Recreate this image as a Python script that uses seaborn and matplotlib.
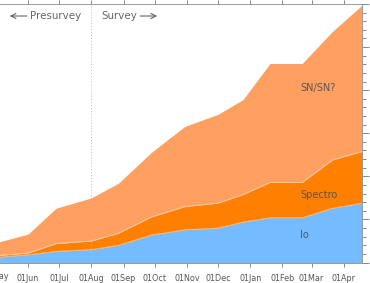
import pandas as pd
import numpy as np
import matplotlib
matplotlib.use("Agg")
import matplotlib.pyplot as plt
import matplotlib.dates as mdates
import seaborn as sns

# cumulative counts per category
dates = ["2004-05-01", "2004-06-01", "2004-06-28", "2004-08-01", "2004-08-27",
         "2004-09-28", "2004-10-30", "2004-12-01", "2004-12-25", "2005-01-20",
         "2005-02-20", "2005-03-21", "2005-04-19"]
io_counts = [6, 9, 13, 15, 20, 32, 38, 40, 47, 52, 52, 63, 69]
spectro_counts = [2, 2, 9, 10, 14, 21, 27, 29, 32, 41, 41, 56, 60]
sn_counts = [15, 22, 41, 50, 58, 75, 93, 103, 110, 138, 138, 149, 170]

layer_names = ["Io", "Spectro", "SN/SN?"]
layer_colors = ["#75BBFF", "#FF8000", "#FFA060"]
survey_start = "2004-08-01"

df = pd.DataFrame({"date": pd.to_datetime(dates), "Io": io_counts,
                   "Spectro": spectro_counts, "SN/SN?": sn_counts})
df["Io_top"] = df["Io"]
df["Spectro_top"] = df["Io_top"] + df["Spectro"]
df["SN/SN?_top"] = df["Spectro_top"] + df["SN/SN?"]

sns.set_style("white")
plt.rcParams['font.family'] = ['DejaVu Sans']

fig = plt.figure(figsize=(3.7, 2.83), dpi=100)
ax = fig.add_axes([0.0, 0.0724, 0.978, 0.9134])

lower = np.zeros(len(df))
for name, color in zip(layer_names, layer_colors):
    upper = df[name + "_top"].values
    ax.fill_between(df["date"], lower, upper, color=color, linewidth=0, zorder=1)
    lower = upper

# faint seams between layers
for name in layer_names[:-1]:
    sns.lineplot(x=df["date"], y=df[name + "_top"], ax=ax, color="white",
                 linewidth=0.5, alpha=0.5, zorder=2)

ax.axvline(pd.Timestamp(survey_start), color="#bbbbbb", linestyle=(0, (1, 2)),
           linewidth=0.7, zorder=3)

ax.set_xlim(pd.Timestamp("2004-05-05"), pd.Timestamp("2005-04-18 12:00"))
ax.set_ylim(0, 300)
ax.set_xlabel("")
ax.set_ylabel("")

ax.xaxis.set_major_locator(mdates.MonthLocator())
ax.xaxis.set_major_formatter(mdates.DateFormatter("%d%b"))
ax.yaxis.set_major_locator(plt.MultipleLocator(50))
ax.yaxis.set_minor_locator(plt.MultipleLocator(10))

tick_color = "#888888"
ax.tick_params(axis="x", which="major", direction="out", length=3, width=0.7,
               color=tick_color, labelsize=5.8, labelcolor="#555555",
               top=True, bottom=True, labeltop=False, pad=5)
ax.tick_params(axis="y", which="major", direction="out", length=5, width=0.7,
               color=tick_color, left=False, right=True,
               labelleft=False, labelright=False)
ax.tick_params(axis="y", which="minor", direction="out", length=3, width=0.7,
               color=tick_color, left=False, right=True)

for side in ["top", "bottom", "right"]:
    ax.spines[side].set_color("#999999")
    ax.spines[side].set_linewidth(0.7)
    ax.spines[side].set_visible(True)
ax.spines["left"].set_visible(False)

# first month label sits just off the left edge of the cropped figure
ax.text(pd.Timestamp("2004-05-01"), -16, "01May", ha="center", va="center",
        fontsize=5.8, color="#555555", clip_on=False)

txt_color = "#666666"
arrow_props = dict(arrowstyle="->", color=txt_color, lw=0.8, mutation_scale=9)
ax.annotate("", xy=(0.019, 0.9536), xytext=(0.082, 0.9536), xycoords="axes fraction",
            arrowprops=arrow_props)
ax.text(0.084, 0.9536, "Presurvey", transform=ax.transAxes, ha="left", va="center",
        fontsize=7.4, color=txt_color)
ax.text(0.378, 0.9536, "Survey", transform=ax.transAxes, ha="right", va="center",
        fontsize=7.4, color=txt_color)
ax.annotate("", xy=(0.442, 0.9536), xytext=(0.380, 0.9536), xycoords="axes fraction",
            arrowprops=arrow_props)

label_date = pd.Timestamp("2005-02-18")
ax.text(label_date, 203, "SN/SN?", ha="left", va="center", fontsize=7, color="#555555")
ax.text(label_date, 78, "Spectro", ha="left", va="center", fontsize=7, color="#555555")
ax.text(label_date, 32.5, "Io", ha="left", va="center", fontsize=7, color="#555555")

fig.savefig("out.png", dpi=100)
